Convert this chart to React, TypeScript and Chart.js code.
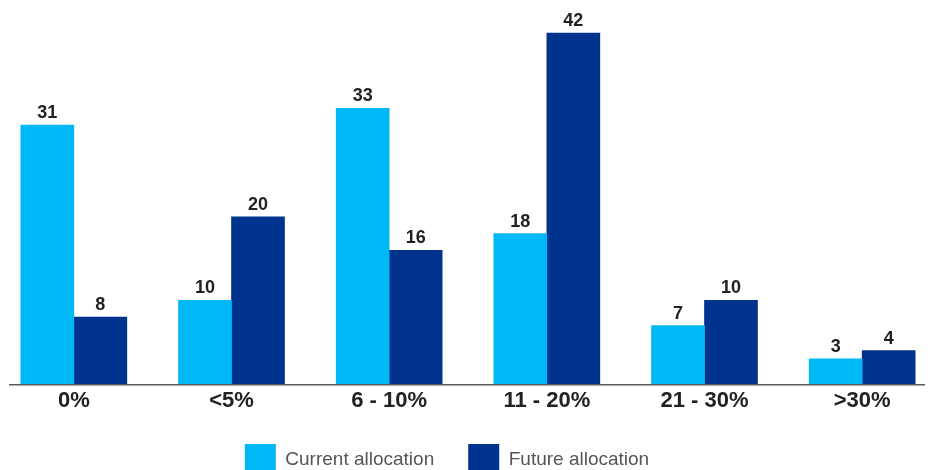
import React, { useEffect, useRef } from "react";
import { Chart, registerables } from "chart.js";

Chart.register(...registerables);

const categories = ["0%", "<5%", "6 - 10%", "11 - 20%", "21 - 30%", ">30%"];
const currentAllocation = [31, 10, 33, 18, 7, 3];
const futureAllocation = [8, 20, 16, 42, 10, 4];
const seriesNames = ["Current allocation", "Future allocation"];

const CYAN = "#00B8F5";
const NAVY = "#00338D";
const FONT = "'Liberation Sans', Arial, sans-serif";

const valueLabels = {
  id: "valueLabels",
  afterDatasetsDraw(chart: any) {
    const ctx = chart.ctx;
    ctx.save();
    ctx.font = `bold 18px ${FONT}`;
    ctx.fillStyle = "#222222";
    ctx.textAlign = "center";
    ctx.textBaseline = "alphabetic";
    chart.data.datasets.forEach((ds: any, di: number) => {
      const meta = chart.getDatasetMeta(di);
      meta.data.forEach((el: any, i: number) => {
        ctx.fillText(String(ds.data[i]), el.x, el.y - 7);
      });
    });
    ctx.restore();
  },
};

const baseLine = {
  id: "baseLine",
  afterDatasetsDraw(chart: any) {
    const ctx = chart.ctx;
    const y = chart.scales.y.getPixelForValue(0);
    const { left, right } = chart.chartArea;
    ctx.save();
    ctx.fillStyle = "#5a5a5a";
    ctx.fillRect(left + 14, y, right - left - 30, 1.5);
    ctx.restore();
  },
};

export default function App() {
  const ref = useRef<HTMLCanvasElement>(null);
  useEffect(() => {
    document.body.style.overflow = "hidden";
    document.documentElement.style.overflow = "hidden";
    const chart = new Chart(ref.current!, {
      type: "bar",
      data: {
        labels: categories,
        datasets: [
          {
            label: seriesNames[0],
            data: currentAllocation,
            backgroundColor: CYAN,
            barThickness: 53,
          },
          {
            label: seriesNames[1],
            data: futureAllocation,
            backgroundColor: NAVY,
            barThickness: 53,
          },
        ],
      },
      options: {
        animation: false,
        responsive: false,
        layout: { padding: { top: 8, left: 0, right: 0, bottom: 0 } },
        plugins: {
          tooltip: { enabled: false },
          legend: {
            position: "bottom",
            labels: {
              boxWidth: 31,
              boxHeight: 31,
              padding: 34,
              color: "#555555",
              font: { family: FONT, size: 19 },
            },
          },
        },
        scales: {
          x: {
            grid: { display: false, drawTicks: false },
            border: { display: false },
            ticks: {
              color: "#222222",
              padding: 4,
              font: { family: FONT, size: 22, weight: "bold" },
            },
            afterFit: (s: any) => {
              s.height = 26;
            },
          },
          y: {
            min: 0,
            max: 45,
            position: "left",
            grid: { display: false, drawTicks: false },
            border: { display: false },
            ticks: { display: false },
            afterFit: (s: any) => {
              s.width = 42;
            },
          },
        },
      },
      plugins: [valueLabels, baseLine],
    });
    return () => chart.destroy();
  }, []);
  return (
    <div style={{ position: "absolute", left: -47, top: 0, width: 988, height: 485 }}>
      <canvas ref={ref} width={988} height={485} />
    </div>
  );
}
